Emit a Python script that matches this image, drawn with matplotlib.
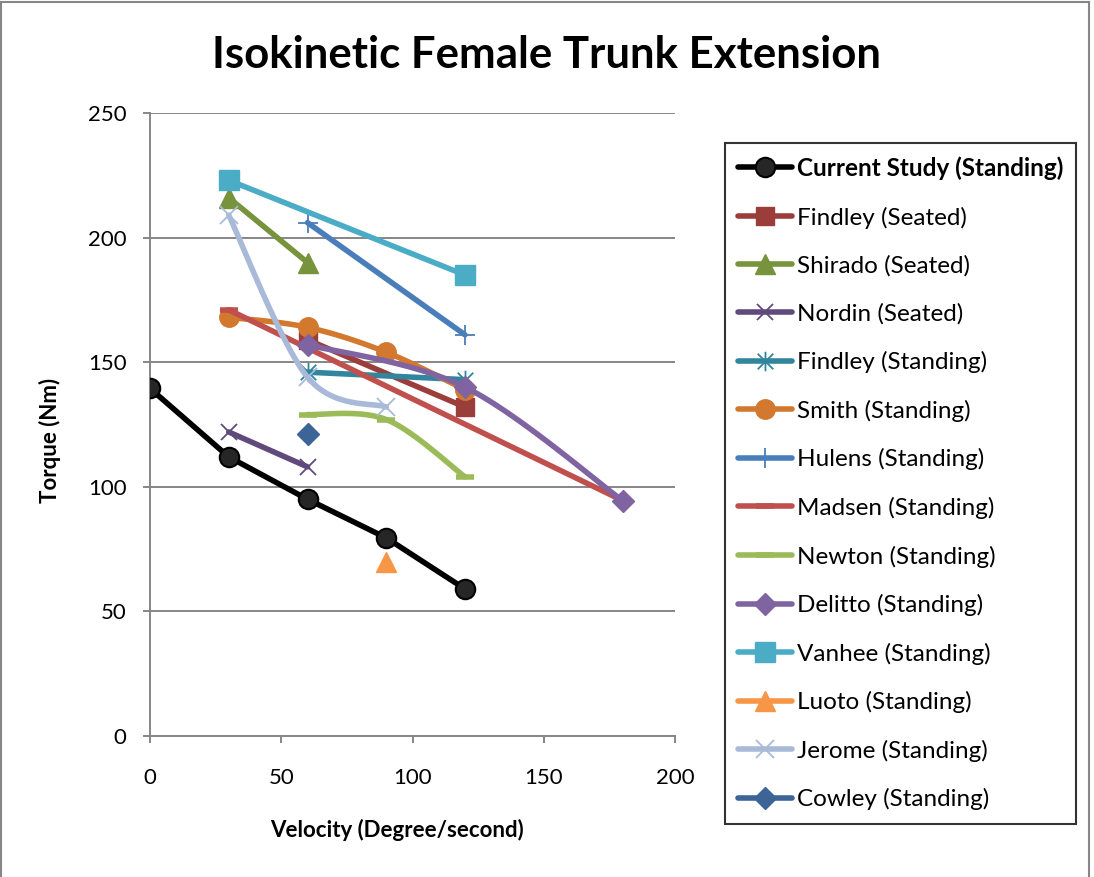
import numpy as np
import matplotlib
matplotlib.use('Agg')
import matplotlib.pyplot as plt
from matplotlib.path import Path
from matplotlib.lines import Line2D

plt.rcParams['font.family'] = ['Lato', 'DejaVu Sans']

# ---------------- data ----------------
current_x = [0, 30, 60, 90, 120]
current_y = [139.5, 112, 95, 79.5, 59]
findley_seated_x = [60, 120]
findley_seated_y = [159, 132]
shirado_x = [30, 60]
shirado_y = [216, 190]
nordin_x = [30, 60]
nordin_y = [122, 108]
findley_standing_x = [60, 120]
findley_standing_y = [146, 143]
smith_x = [30, 60, 90, 120]
smith_y = [168, 164, 154, 139]
hulens_x = [60, 120]
hulens_y = [206, 161]
madsen_x = [30, 180]
madsen_y = [171, 94.5]
newton_x = [60, 90, 120]
newton_y = [129, 127, 104]
delitto_x = [60, 120, 180]
delitto_y = [157, 140, 94.5]
vanhee_x = [30, 120]
vanhee_y = [223, 185]
luoto_x = [90]
luoto_y = [70]
jerome_x = [30, 60, 90]
jerome_y = [209, 144, 132]
cowley_x = [60]
cowley_y = [121]

labels = ["Current Study (Standing)", "Findley (Seated)", "Shirado (Seated)",
          "Nordin (Seated)", "Findley (Standing)", "Smith (Standing)",
          "Hulens (Standing)", "Madsen (Standing)", "Newton (Standing)",
          "Delitto (Standing)", "Vanhee (Standing)", "Luoto (Standing)",
          "Jerome (Standing)", "Cowley (Standing)"]

x_ticks = [0, 50, 100, 150, 200]
y_ticks = [0, 50, 100, 150, 200, 250]

# ---------------- styles ----------------
star = Path([(0, -1), (0, 1), (-0.8, -0.8), (0.8, 0.8), (-0.8, 0.8), (0.8, -0.8)],
            [Path.MOVETO, Path.LINETO, Path.MOVETO, Path.LINETO, Path.MOVETO, Path.LINETO])

series = [
    (current_x, current_y, '#000000', 'o', 14, '#262626', '#000000', 1.5, False),
    (findley_seated_x, findley_seated_y, '#9B3D3A', 's', 13, '#9B3D3A', '#9B3D3A', 1, False),
    (shirado_x, shirado_y, '#77933C', '^', 15, '#77933C', '#77933C', 1, False),
    (nordin_x, nordin_y, '#604A7B', 'x', 12, '#604A7B', '#604A7B', 1.3, False),
    (findley_standing_x, findley_standing_y, '#31859C', star, 14, '#31859C', '#31859C', 1.3, False),
    (smith_x, smith_y, '#D2782F', 'o', 14, '#D2782F', '#D2782F', 1, True),
    (hulens_x, hulens_y, '#4A7EBB', '+', 14, '#4A7EBB', '#4A7EBB', 1.3, False),
    (madsen_x, madsen_y, '#C0504D', '_', 13, '#C0504D', '#C0504D', 4, False),
    (newton_x, newton_y, '#9BBB59', '_', 13, '#9BBB59', '#9BBB59', 4, True),
    (delitto_x, delitto_y, '#8064A2', 'D', 11, '#8064A2', '#8064A2', 1, True),
    (vanhee_x, vanhee_y, '#4BACC6', 's', 14, '#4BACC6', '#4BACC6', 1, False),
    (luoto_x, luoto_y, '#F79646', '^', 15, '#F79646', '#F79646', 1, False),
    (jerome_x, jerome_y, '#A9B9D8', 'x', 13, '#A9B9D8', '#A9B9D8', 1.3, True),
    (cowley_x, cowley_y, '#3C6496', 'D', 11, '#3C6496', '#3C6496', 1, False),
]

LW = 4.0


def smooth(x, y, n=40):
    P = np.column_stack([x, y]).astype(float)
    if len(P) < 3:
        return P[:, 0], P[:, 1]
    out = []
    for i in range(len(P) - 1):
        p0 = P[i - 1] if i > 0 else P[i]
        p1 = P[i]
        p2 = P[i + 1]
        p3 = P[i + 2] if i + 2 < len(P) else P[i + 1]
        c1 = p1 + (p2 - p0) / 6.0
        c2 = p2 - (p3 - p1) / 6.0
        t = np.linspace(0, 1, n)[:, None]
        seg = (1 - t) ** 3 * p1 + 3 * (1 - t) ** 2 * t * c1 + 3 * (1 - t) * t ** 2 * c2 + t ** 3 * p2
        out.append(seg if i == 0 else seg[1:])
    S = np.vstack(out)
    return S[:, 0], S[:, 1]


W, H = 1094, 877
fig = plt.figure(figsize=(W / 100, H / 100), dpi=100)
ax = fig.add_axes([150 / W, 1 - 736 / H, (675 - 150) / W, (736 - 113) / H])

handles = []
for k, (xs, ys, col, mk, ms, mfc, mec, mew, sm) in enumerate(series):
    z = 3 + k
    if len(xs) > 1:
        if sm:
            cx, cy = smooth(xs, ys)
        else:
            cx, cy = xs, ys
        ax.plot(cx, cy, color=col, lw=LW, solid_capstyle='round', solid_joinstyle='round', zorder=z)
    ax.plot(xs, ys, linestyle='none', marker=mk, ms=ms, mfc=mfc, mec=mec, mew=mew, zorder=z + 0.5)
    handles.append(Line2D([0], [0], color=col, lw=LW, solid_capstyle='round', marker=mk, ms=ms,
                          mfc=mfc, mec=mec, mew=mew))

ax.set_xlim(0, 200)
ax.set_ylim(0, 250)
ax.set_xticks(x_ticks)
ax.set_yticks(y_ticks)
ax.grid(axis='y', color='#868686', lw=1.4)
ax.set_axisbelow(True)
for s in ['top', 'right']:
    ax.spines[s].set_visible(False)
for s in ['left', 'bottom']:
    ax.spines[s].set_color('#868686')
    ax.spines[s].set_linewidth(1.4)
ax.tick_params(axis='both', colors='#868686', labelcolor='black', labelsize=16, length=5, width=1.4)
ax.tick_params(axis='x', pad=18)
ax.tick_params(axis='y', pad=12)

fig.text(546 / W, 1 - 55 / H, "Isokinetic Female Trunk Extension", ha='center', va='center',
         fontsize=31.5, fontweight='bold')
fig.text(397 / W, 1 - 830 / H, "Velocity (Degree/second)", ha='center', va='center',
         fontsize=16, fontweight='bold')
fig.text(50 / W, 1 - 440 / H, "Torque (Nm)", ha='center', va='center', rotation=90,
         fontsize=16, fontweight='bold')

leg = fig.legend(handles, labels, loc='upper left', bbox_to_anchor=(725 / W, 1 - 143 / H),
                 frameon=True, fancybox=False, fontsize=17.5, handlelength=2.2,
                 handletextpad=0.2, labelspacing=1.09, borderpad=0.55, borderaxespad=0)
leg.get_frame().set_edgecolor('black')
leg.get_frame().set_linewidth(1.5)
leg.texts[0].set_fontweight('bold')

# chart border
fig.add_artist(Line2D([0, 1089 / W], [1 - 2 / H, 1 - 2 / H], color='#868686', lw=1.5))
fig.add_artist(Line2D([1089 / W, 1089 / W], [0, 1 - 2 / H], color='#868686', lw=1.5))
fig.add_artist(Line2D([1 / W, 1 / W], [1 - 2 / H, 0], color='#868686', lw=1.5))

fig.savefig('out.png', dpi=100)
